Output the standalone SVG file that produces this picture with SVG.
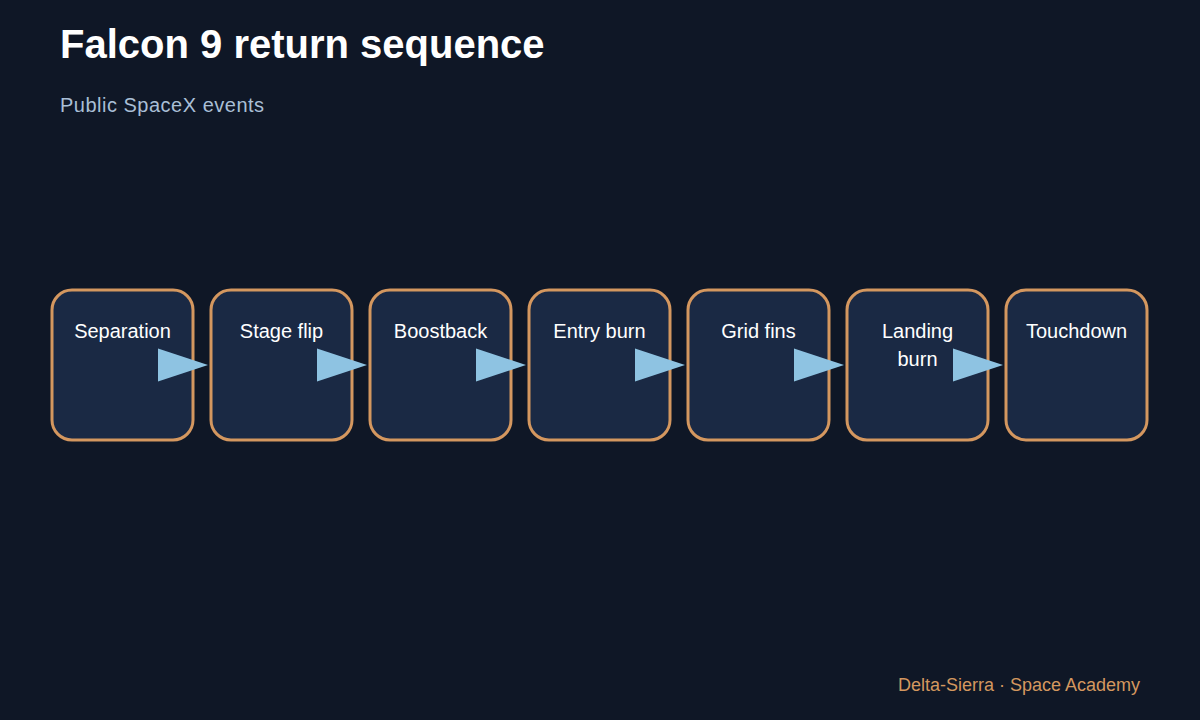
<svg xmlns="http://www.w3.org/2000/svg" width="1200" height="720" viewBox="0 0 1200 720">
<style>
.n rect{fill:#1a2944;stroke:#d4975f;stroke-width:3}
.n text{font-family:"Liberation Sans",Arial,sans-serif;font-size:20px;fill:#ffffff;text-anchor:middle}
.a{fill:#8ec3e2}
</style>
<rect width="1200" height="720" fill="#0f1726"/>
<text x="60" y="58" font-family="Liberation Sans,Arial,sans-serif" font-size="40" font-weight="bold" fill="#ffffff">Falcon 9 return sequence</text>
<text x="60" y="112" font-family="Liberation Sans,Arial,sans-serif" font-size="20" fill="#a9bfd6" letter-spacing="0.5">Public SpaceX events</text>
<g id="n1" class="n"><rect x="52" y="290" width="141" height="150" rx="20"/><text x="122.5" y="338">Separation</text></g>
<g id="n2" class="n"><rect x="211" y="290" width="141" height="150" rx="20"/><text x="281.5" y="338">Stage flip</text></g>
<g id="n3" class="n"><rect x="370" y="290" width="141" height="150" rx="20"/><text x="440.5" y="338">Boostback</text></g>
<g id="n4" class="n"><rect x="529" y="290" width="141" height="150" rx="20"/><text x="599.5" y="338">Entry burn</text></g>
<g id="n5" class="n"><rect x="688" y="290" width="141" height="150" rx="20"/><text x="758.5" y="338">Grid fins</text></g>
<g id="n6" class="n"><rect x="847" y="290" width="141" height="150" rx="20"/><text x="917.5" y="338">Landing</text><text x="917.5" y="366">burn</text></g>
<g id="n7" class="n"><rect x="1006" y="290" width="141" height="150" rx="20"/><text x="1076.5" y="338">Touchdown</text></g>
<g id="connectors" class="a">
<polygon points="158,348.5 208,365 158,381.5"/>
<polygon points="317,348.5 367,365 317,381.5"/>
<polygon points="476,348.5 526,365 476,381.5"/>
<polygon points="635,348.5 685,365 635,381.5"/>
<polygon points="794,348.5 844,365 794,381.5"/>
<polygon points="953,348.5 1003,365 953,381.5"/>
</g>
<text x="1140" y="691" text-anchor="end" font-family="Liberation Sans,Arial,sans-serif" font-size="18" fill="#d4975f">Delta-Sierra · Space Academy</text>
</svg>
